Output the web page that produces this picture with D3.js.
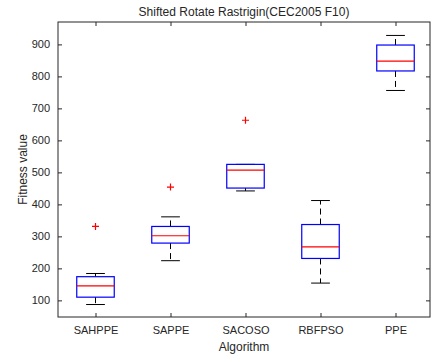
<!DOCTYPE html>
<html>
<head>
<meta charset="utf-8">
<script src="https://cdn.jsdelivr.net/npm/d3@7"></script>
<style>
  body { margin: 0; background: #fff; }
  text { font-family: "Liberation Sans", Arial, sans-serif; fill: #262626; }
</style>
</head>
<body>
<div id="chart"></div>
<script>
// data
const algorithms = ['SAHPPE', 'SAPPE', 'SACOSO', 'RBFPSO', 'PPE'];
const whiskerLow = [87, 224, 442, 154, 756];
const q1 = [110, 279, 451, 231, 817];
const medians = [145, 302, 507, 267, 848];
const q3 = [174, 331, 525, 337, 898];
const whiskerHigh = [184, 361, 525, 412, 928];
const outliers = [[331], [454], [663], [], []];
const yTicks = [100, 200, 300, 400, 500, 600, 700, 800, 900];

const data = algorithms.map((name, i) => ({
    name, i: i + 1,
    lo: whiskerLow[i], q1: q1[i], med: medians[i], q3: q3[i], hi: whiskerHigh[i],
    out: outliers[i]
}));

const W = 436, H = 357;
const margin = { top: 22, right: 6, bottom: 40, left: 58 };
const svg = d3.select('#chart').append('svg').attr('width', W).attr('height', H);

const x = d3.scaleLinear().domain([0.5, 5.46]).range([margin.left, W - margin.right]);
const y = d3.scaleLinear().domain([48, 970]).range([H - margin.bottom, margin.top]);
const boxW = x(1.25) - x(1);

const axisColor = '#262626';
const tickLen = 4;

// frame
svg.append('rect')
    .attr('x', x.range()[0]).attr('y', y.range()[1])
    .attr('width', x.range()[1] - x.range()[0])
    .attr('height', y.range()[0] - y.range()[1])
    .attr('fill', 'none').attr('stroke', axisColor).attr('stroke-width', 1);

// axes with inward ticks
const xAxis = svg.append('g')
    .attr('transform', `translate(0,${y.range()[0]})`)
    .call(d3.axisBottom(x).tickValues(data.map(d => d.i)).tickFormat((d, i) => algorithms[i])
        .tickSizeInner(-tickLen).tickSizeOuter(0).tickPadding(9));
xAxis.select('.domain').remove();

const xTop = svg.append('g')
    .attr('transform', `translate(0,${y.range()[1]})`)
    .call(d3.axisTop(x).tickValues(data.map(d => d.i)).tickFormat('')
        .tickSizeInner(-tickLen).tickSizeOuter(0));
xTop.select('.domain').remove();

const yAxis = svg.append('g')
    .attr('transform', `translate(${x.range()[0]},0)`)
    .call(d3.axisLeft(y).tickValues(yTicks).tickSizeInner(-tickLen).tickSizeOuter(0).tickPadding(8));
yAxis.select('.domain').remove();

const yRight = svg.append('g')
    .attr('transform', `translate(${x.range()[1]},0)`)
    .call(d3.axisRight(y).tickValues(yTicks).tickFormat('').tickSizeInner(-tickLen).tickSizeOuter(0));
yRight.select('.domain').remove();

svg.selectAll('.tick line').attr('stroke', axisColor);
svg.selectAll('.tick text').attr('font-size', 11).attr('fill', axisColor);

// boxes
const g = svg.append('g').selectAll('g').data(data).join('g');

// dashed whiskers
g.append('line')
    .attr('x1', d => x(d.i)).attr('x2', d => x(d.i))
    .attr('y1', d => y(d.q3)).attr('y2', d => y(d.hi))
    .attr('stroke', '#000').attr('stroke-dasharray', '6,4');
g.append('line')
    .attr('x1', d => x(d.i)).attr('x2', d => x(d.i))
    .attr('y1', d => y(d.q1)).attr('y2', d => y(d.lo))
    .attr('stroke', '#000').attr('stroke-dasharray', '6,4');

// whisker caps
g.append('line')
    .attr('x1', d => x(d.i) - boxW / 2).attr('x2', d => x(d.i) + boxW / 2)
    .attr('y1', d => y(d.hi)).attr('y2', d => y(d.hi))
    .attr('stroke', '#000');
g.append('line')
    .attr('x1', d => x(d.i) - boxW / 2).attr('x2', d => x(d.i) + boxW / 2)
    .attr('y1', d => y(d.lo)).attr('y2', d => y(d.lo))
    .attr('stroke', '#000');

g.append('rect')
    .attr('x', d => x(d.i) - boxW).attr('width', boxW * 2)
    .attr('y', d => y(d.q3)).attr('height', d => y(d.q1) - y(d.q3))
    .attr('fill', 'none').attr('stroke', '#0000ff').attr('stroke-width', 1.2);

g.append('line')
    .attr('x1', d => x(d.i) - boxW).attr('x2', d => x(d.i) + boxW)
    .attr('y1', d => y(d.med)).attr('y2', d => y(d.med))
    .attr('stroke', '#ff0000').attr('stroke-width', 1.2);

// outliers as red plus signs
g.selectAll('path.out').data(d => d.out.map(v => ({ i: d.i, v }))).join('path')
    .attr('class', 'out')
    .attr('d', d => `M${x(d.i) - 3.5},${y(d.v)}h7M${x(d.i)},${y(d.v) - 3.5}v7`)
    .attr('stroke', '#ff0000').attr('stroke-width', 1.2);

// labels
const cx = (x.range()[0] + x.range()[1]) / 2;
svg.append('text').attr('x', cx).attr('y', 16).attr('text-anchor', 'middle')
    .attr('font-size', 12).attr('fill', '#000').text('Shifted Rotate Rastrigin(CEC2005 F10)');
svg.append('text').attr('x', cx).attr('y', 351).attr('text-anchor', 'middle')
    .attr('font-size', 12).text('Algorithm');
svg.append('text')
    .attr('transform', `translate(27,${(y.range()[0] + y.range()[1]) / 2}) rotate(-90)`)
    .attr('text-anchor', 'middle').attr('font-size', 12).text('Fitness value');
</script>
</body>
</html>
